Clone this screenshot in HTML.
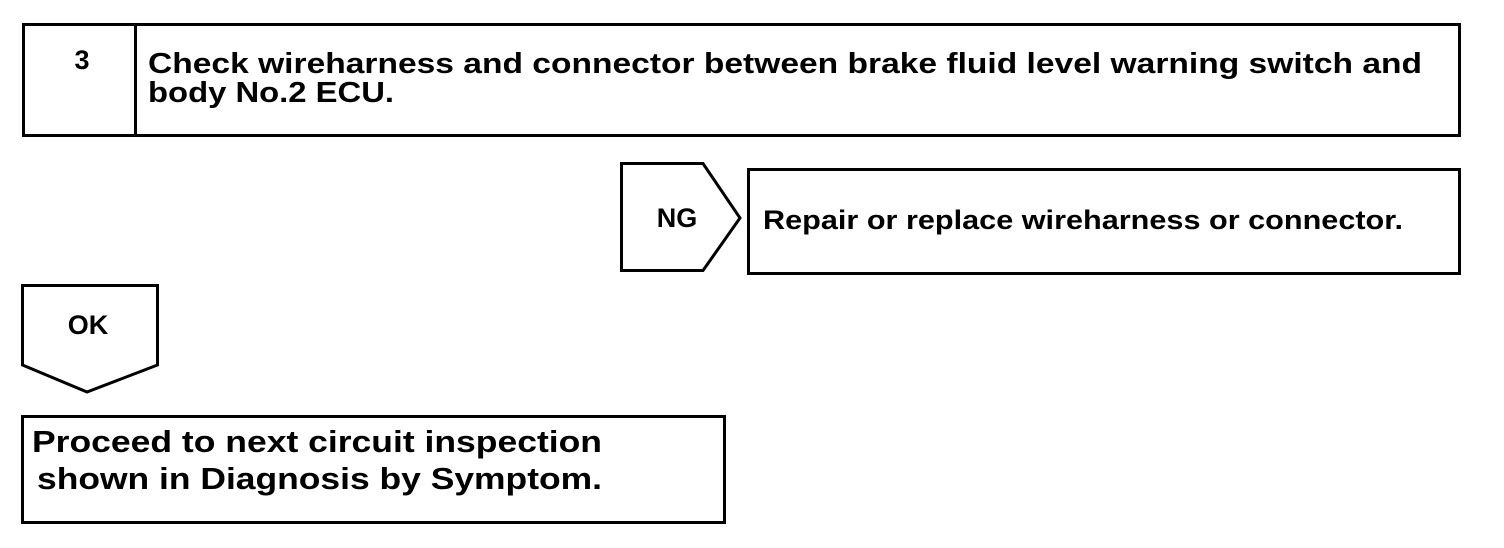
<!DOCTYPE html>
<html><head><meta charset="utf-8"><style>html,body{margin:0;padding:0;background:#fff}svg{display:block}</style></head>
<body>
<svg width="1504" height="548" viewBox="0 0 1504 548" xmlns="http://www.w3.org/2000/svg" font-family="Liberation Sans, Arial, sans-serif" font-weight="bold" fill="#000">
<g fill="none" stroke="#000" stroke-width="3">
<rect x="23.5" y="24.5" width="1436" height="111"/>
<line x1="135.5" y1="24" x2="135.5" y2="135"/>
<polygon points="621.5,163.5 703,163.5 740,218 703,270.5 621.5,270.5"/>
<rect x="748.5" y="169.5" width="711" height="104"/>
<polygon points="22.5,285.5 157.5,285.5 157.5,365 87,392 22.5,365"/>
<rect x="22.5" y="416.5" width="702" height="106"/>
</g>
<text x="82" y="69" font-size="27" text-anchor="middle">3</text>
<text x="148" y="73" font-size="29" textLength="1274" lengthAdjust="spacingAndGlyphs">Check wireharness and connector between brake fluid level warning switch and</text>
<text x="148" y="102" font-size="29" textLength="246" lengthAdjust="spacingAndGlyphs">body No.2 ECU.</text>
<text x="677" y="227" font-size="27" text-anchor="middle">NG</text>
<text x="763" y="229" font-size="27" textLength="640" lengthAdjust="spacingAndGlyphs">Repair or replace wireharness or connector.</text>
<text x="88" y="334" font-size="27" text-anchor="middle">OK</text>
<text x="32" y="452" font-size="31" textLength="570" lengthAdjust="spacingAndGlyphs">Proceed to next circuit inspection</text>
<text x="37" y="489" font-size="31" textLength="565" lengthAdjust="spacingAndGlyphs">shown in Diagnosis by Symptom.</text>
</svg>
</body></html>
